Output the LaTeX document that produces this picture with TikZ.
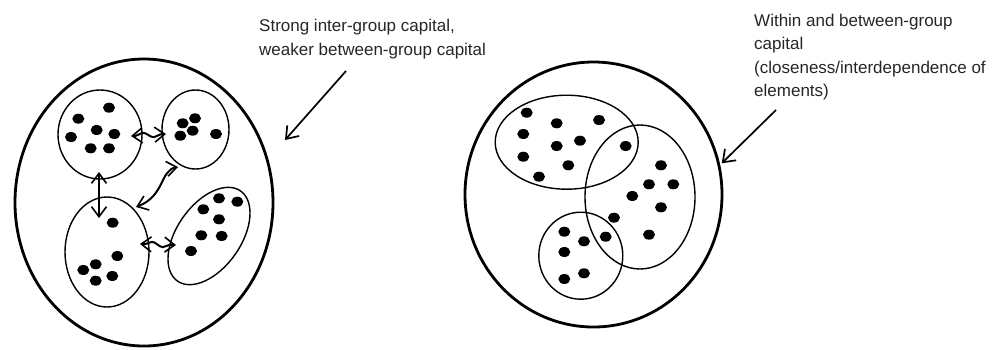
\documentclass[tikz,border=0pt]{standalone}
\usepackage{fontspec}
\setmainfont{Liberation Sans}
\usetikzlibrary{shapes.geometric,arrows.meta,decorations.pathmorphing}
\begin{document}
\begin{tikzpicture}[x=1pt,y=-1pt,
  outer/.style={draw, ellipse, line width=2.8pt, inner sep=0pt},
  grp/.style={draw, ellipse, line width=1.4pt, inner sep=0pt},
  lbl/.style={font=\fontsize{17}{23.5}\selectfont, align=left, inner sep=0pt, anchor=base west, text=black!85},
  pointer/.style={line width=1.7pt, -{Straight Barb[length=11pt,width=16pt,line width=1.7pt]}},
  link/.style={line width=2pt, {Straight Barb[length=10pt,width=15pt,line width=1.6pt]}-{Straight Barb[length=10pt,width=15pt,line width=1.6pt]}},
  wavy/.style={decorate, decoration={snake, amplitude=2.5pt, segment length=22pt, pre length=5pt, post length=5pt}}
]
\useasboundingbox (0,0) rectangle (1001,349);

% ---------- left diagram ----------
\node[outer, minimum width=258pt, minimum height=287pt] (L) at (144,202.5) {};
\node[grp, minimum width=84pt, minimum height=89pt] (g1) at (100,134.5) {};
\node[grp, minimum width=67pt, minimum height=79pt] (g2) at (195.5,129.5) {};
\node[grp, minimum width=84pt, minimum height=110pt] (g3) at (107,252) {};
\node[grp, minimum width=110pt, minimum height=64pt, rotate=55] (g4) at (209,236) {};

\foreach \p in {(109,107.7),(78.3,118.7),(96.7,130),(114.3,134),(71,137),(90.7,148.3),(109,148.3),
                (195,118.3),(182.7,123.3),(192.7,130.7),(180.3,135.7),(216,134),
                (112.7,222.7),(117.3,256),(95.7,264.3),(83.3,270),(112.3,276),(95.7,280.7),
                (219,198.3),(237.3,201.7),(203.3,209.3),(219,219.3),(201.3,235.3),(221.7,236),(191,251)}
  \fill \p ellipse [x radius=6, y radius=5];

% connectors between groups
\coordinate (a1) at (131,136);
\coordinate (a2) at (166,134);
\draw[link, wavy] (a1) -- (a2);

\coordinate (b1) at (99,172);
\coordinate (b2) at (99,218);
\draw[link, line width=1.7pt] (b1) -- (b2);

\coordinate (c1) at (178,167);
\coordinate (c2) at (136,207);
\draw[link] (c1) .. controls (160,170) and (165,196) .. (c2);

\coordinate (d1) at (140,244);
\coordinate (d2) at (176,245);
\draw[link, wavy] (d1) -- (d2);

% label
\node[lbl] (tl) at (259,55) {Strong inter-group capital,\\weaker between-group capital};
\coordinate (p1) at (346,71);
\coordinate (p2) at (285,140);
\draw[pointer] (p1) -- (p2);

% ---------- right diagram ----------
\node[outer, minimum width=257pt, minimum height=265pt] (R) at (593.5,194.5) {};
\node[grp, minimum width=143pt, minimum height=94pt] (h1) at (566.7,142.2) {};
\node[grp, minimum width=110pt, minimum height=144pt] (h2) at (640,197) {};
\node[grp, minimum width=84pt, minimum height=87pt] (h3) at (580.8,255.7) {};

\foreach \p in {(526.7,112.7),(556.7,123.3),(599,120),(523.3,134),(580,140.7),(556.7,146),(625.7,146),
                (523.3,156.7),(568.3,165.3),(539,176.7),(661,165.3),(649,184.3),(673.3,184.3),
                (632.3,196),(661,207.3),(614,217.7),(564.3,231.7),(584,241.3),(605.7,236.7),
                (649,234.7),(564.3,252),(584,273.3),(564.3,279)}
  \fill \p ellipse [x radius=6, y radius=5];

\node[lbl] (tr) at (754,96.7) {Within and between-group\\capital\\(closeness/interdependence of\\elements)};
\coordinate (q1) at (776,110);
\coordinate (q2) at (721.7,163.3);
\draw[pointer] (q1) -- (q2);
\end{tikzpicture}
\end{document}
